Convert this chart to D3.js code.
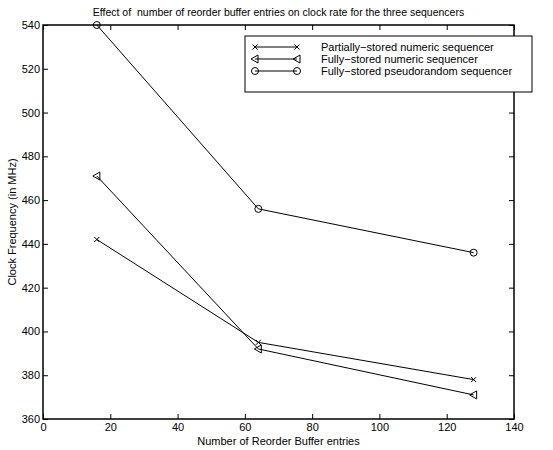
<!DOCTYPE html>
<html>
<head>
<meta charset="utf-8">
<script src="https://cdn.jsdelivr.net/npm/d3@7"></script>
<style>
body { margin: 0; background: #fff; }
text { font-family: "Liberation Sans", Arial, sans-serif; font-size: 11px; fill: #000; }
</style>
</head>
<body>
<svg></svg>
<script>
var width = 553;
var height = 450;
var margin = {left: 43, right: 39, top: 25, bottom: 31};

// data
var entries = [16, 64, 128];
var partialNumeric = [442, 395, 378];
var fullNumeric = [471, 392, 371];
var fullPseudo = [540, 456, 436];
var seriesNames = ["Partially\u2212stored numeric sequencer", "Fully\u2212stored numeric sequencer", "Fully\u2212stored pseudorandom sequencer"];
var seriesMarkers = ["x", "tri", "circle"];
var xTicks = [0, 20, 40, 60, 80, 100, 120, 140];
var yTicks = [360, 380, 400, 420, 440, 460, 480, 500, 520, 540];

var series = [partialNumeric, fullNumeric, fullPseudo].map(function(vals, i) {
    return {name: seriesNames[i], marker: seriesMarkers[i],
        points: vals.map(function(v, j) { return {x: entries[j], y: v}; })};
});

var x0 = margin.left, x1 = width - margin.right;
var y0 = height - margin.bottom, y1 = margin.top;

var xScale = d3.scaleLinear().domain([0, 140]).range([x0, x1]);
var yScale = d3.scaleLinear().domain([360, 540]).range([y0, y1]);

var svg = d3.select("svg").attr("width", width).attr("height", height);

// inward ticks on all four sides
svg.append("g").attr("transform", "translate(0," + y0 + ")")
    .call(d3.axisBottom(xScale).tickValues(xTicks).tickSize(-5).tickSizeOuter(0).tickPadding(4));
svg.append("g").attr("transform", "translate(0," + y1 + ")")
    .call(d3.axisTop(xScale).tickValues(xTicks).tickSize(-5).tickSizeOuter(0).tickFormat(""));
svg.append("g").attr("transform", "translate(" + x0 + ",0)")
    .call(d3.axisLeft(yScale).tickValues(yTicks).tickSize(-5).tickSizeOuter(0).tickPadding(3));
svg.append("g").attr("transform", "translate(" + x1 + ",0)")
    .call(d3.axisRight(yScale).tickValues(yTicks).tickSize(-5).tickSizeOuter(0).tickFormat(""));

svg.selectAll(".domain").remove();
svg.selectAll(".tick line").attr("stroke", "#000");
svg.selectAll(".tick text").style("font-family", "Liberation Sans, Arial, sans-serif").style("font-size", "11px").attr("fill", "#000");

// frame
svg.append("rect")
    .attr("x", x0).attr("y", y1)
    .attr("width", x1 - x0).attr("height", y0 - y1)
    .attr("fill", "none").attr("stroke", "#000").attr("stroke-width", 1.5);

var line = d3.line().x(function(d) { return xScale(d.x); }).y(function(d) { return yScale(d.y); });

function drawMarker(g, type, cx, cy) {
    if (type === "x") {
        g.append("path").attr("d", "M" + (cx - 2.5) + "," + (cy - 2.5) + "L" + (cx + 2.5) + "," + (cy + 2.5) +
            "M" + (cx - 2.5) + "," + (cy + 2.5) + "L" + (cx + 2.5) + "," + (cy - 2.5))
            .attr("stroke", "#000").attr("fill", "none");
    } else if (type === "tri") {
        g.append("path").attr("d", "M" + (cx - 4) + "," + cy + "L" + (cx + 3) + "," + (cy - 4) +
            "L" + (cx + 3) + "," + (cy + 4) + "Z")
            .attr("stroke", "#000").attr("fill", "none");
    } else {
        g.append("circle").attr("cx", cx).attr("cy", cy).attr("r", 3.5)
            .attr("stroke", "#000").attr("fill", "none");
    }
}

series.forEach(function(s) {
    var g = svg.append("g");
    g.append("path").datum(s.points).attr("d", line)
        .attr("fill", "none").attr("stroke", "#000").attr("stroke-width", 1);
    s.points.forEach(function(p) { drawMarker(g, s.marker, xScale(p.x), yScale(p.y)); });
});

// legend
var lg = svg.append("g");
lg.append("rect").attr("x", 245).attr("y", 36).attr("width", 287).attr("height", 56)
    .attr("fill", "#fff").attr("stroke", "#000").attr("stroke-width", 1);
series.forEach(function(s, i) {
    var yy = 47 + i * 12;
    lg.append("line").attr("x1", 255).attr("x2", 297).attr("y1", yy).attr("y2", yy).attr("stroke", "#000");
    drawMarker(lg, s.marker, 255, yy);
    drawMarker(lg, s.marker, 297, yy);
    lg.append("text").attr("x", 321).attr("y", yy + 4).text(s.name);
});

// labels
svg.append("text")
    .attr("x", (x0 + x1) / 2).attr("y", 16)
    .style("text-anchor", "middle")
    .style("font-size", "10.5px")
    .attr("xml:space", "preserve").style("white-space", "pre")
    .text("Effect of  number of reorder buffer entries on clock rate for the three sequencers");

svg.append("text")
    .attr("x", (x0 + x1) / 2).attr("y", 445)
    .style("text-anchor", "middle")
    .text("Number of Reorder Buffer entries");

svg.append("text")
    .attr("transform", "rotate(-90)")
    .attr("x", -(y0 + y1) / 2).attr("y", 16)
    .style("text-anchor", "middle")
    .text("Clock Frequency (in MHz)");
</script>
</body>
</html>
